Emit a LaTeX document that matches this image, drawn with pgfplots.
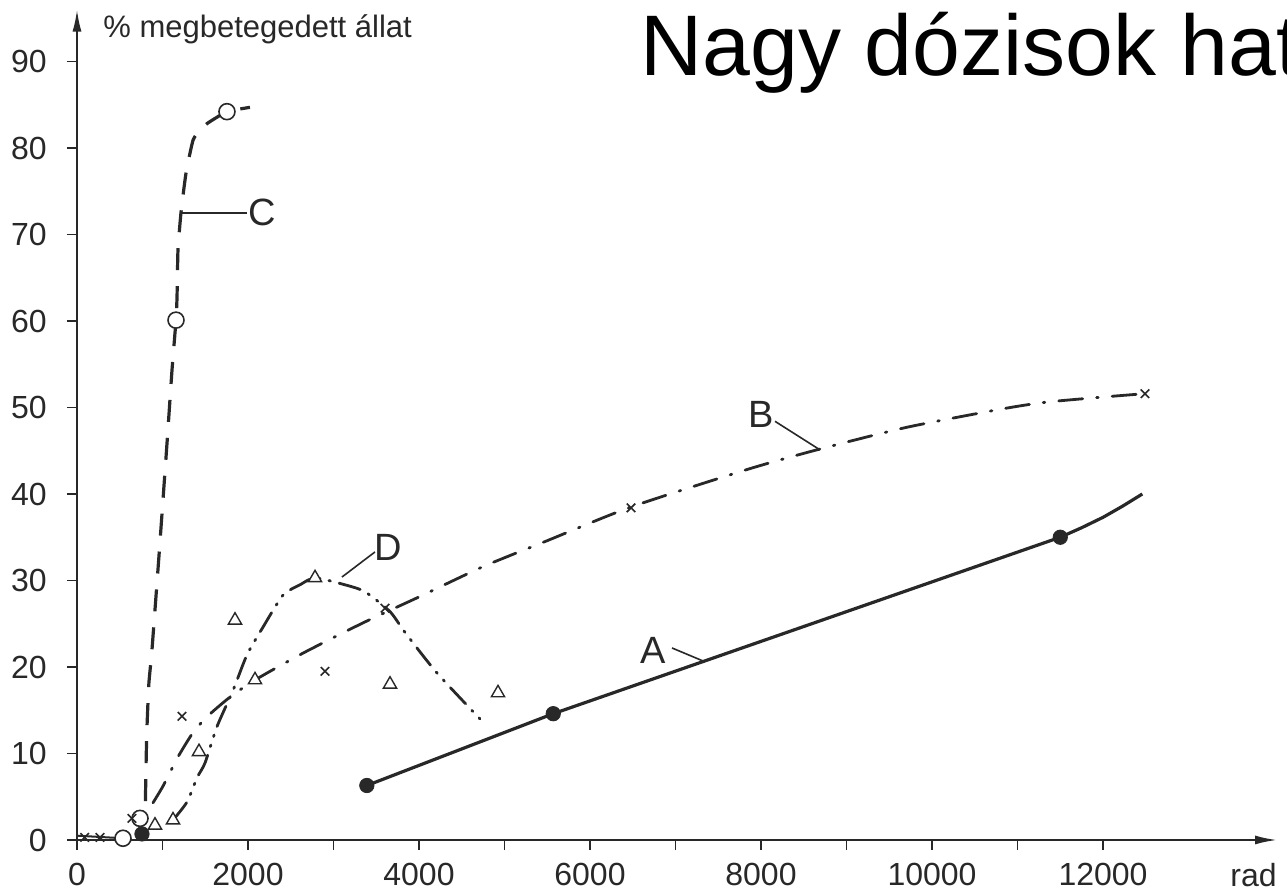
\documentclass[border=0pt]{standalone}
\usepackage{fontspec}
\setmainfont{Liberation Sans}
\usepackage{pgfplots}
\pgfplotsset{compat=1.18}
\usetikzlibrary{arrows.meta}
\definecolor{ink}{RGB}{40,40,40}
\begin{document}
\begin{tikzpicture}
\useasboundingbox (-38.5pt,-26.5pt) rectangle (605pt,420pt);
\begin{axis}[
  at={(0pt,0pt)}, anchor=origin,
  scale only axis, width=600pt, height=415.2pt,
  xmin=0, xmax=14035, ymin=0, ymax=96,
  axis lines=left,
  axis line style={ink, line width=1pt, -{Latex[length=11pt,width=4.5pt]}},
  xtick={0,2000,...,12000},
  minor xtick={1000,3000,...,11000},
  ytick={0,10,...,90},
  tick align=outside,
  major tick length=5pt, minor tick length=5pt,
  tick style={ink, line width=0.8pt},
  scaled ticks=false,
  /pgf/number format/1000 sep={},
  /pgf/number format/assume math mode=true,
  ticklabel style={font=\fontsize{16}{18}\selectfont, text=ink, inner sep=0pt},
  xticklabel style={anchor=base, yshift=-18pt},
  yticklabel style={anchor=east, xshift=-10pt},
  clip=false,
]
% near-origin segment
\addplot[ink, line width=1pt] coordinates {(0,0.5)(538,0.2)};
% A
\addplot[ink, line width=1.6pt] coordinates {(3390,6.3)(5570,14.6)(11500,35.0)(11750,36.1)(12000,37.3)(12230,38.6)(12460,40.0)};
\addplot[only marks, mark=*, mark size=3.6pt, ink] coordinates {(3390,6.3)(5570,14.6)(11500,35.0)(760,0.7)};
% B
\addplot[ink, line width=1.4pt, line cap=round, dash pattern=on 12pt off 7pt on 0.8pt off 7pt, smooth, tension=0.4] coordinates {
(889,4.3)(1010,6.3)(1181,9.6)(1370,12.6)(1560,14.6)(1800,16.6)(2082,18.5)(2643,21.6)(3345,25.1)(4000,28.1)(4749,31.6)(5474,34.5)(6480,38.5)(7860,42.9)(8690,45.2)(9700,47.7)(10800,49.8)(11322,50.6)(11988,51.2)(12491,51.6)};
% D
\addplot[ink, line width=1.4pt, line cap=round, dash pattern=on 11pt off 4.5pt on 0.8pt off 4.5pt on 0.8pt off 4.5pt, smooth, tension=0.4] coordinates {
(1123,2.3)(1287,4.4)(1404,7.2)(1497,8.9)(1637,13.1)(1825,17.3)(1988,21.4)(2175,24.6)(2409,28.3)(2608,29.5)(2784,30.3)(3135,29.5)(3368,28.7)(3661,26.4)(3836,24.0)(4211,19.3)(4713,14.0)};
% C
\addplot[ink, line width=1.6pt, dash pattern=on 11pt off 8pt, smooth, tension=0.3] coordinates {
(800,4.5)(815,12)(840,18)(877,22)(960,33)(1053,45.9)(1111,54.3)(1158,60.1)(1170,62.8)(1181,68.2)(1216,72.5)(1275,77.1)(1357,80.9)(1439,82.1)(1532,82.9)(1754,84.2)(2023,84.7)};
% markers
\addplot[only marks, mark=*, mark size=4pt, mark options={fill=white, draw=ink, line width=0.8pt}] coordinates {(538,0.2)(737,2.5)(1158,60.1)(1754,84.2)};
\addplot[only marks, mark=triangle*, mark size=3.8pt, mark options={fill=white, draw=ink, line width=0.7pt}] coordinates {(912,1.7)(1123,2.3)(1427,10.2)(1848,25.4)(2082,18.5)(2784,30.3)(3661,18.0)(4924,17.0)};
\addplot[only marks, mark=x, mark size=3pt, mark options={draw=ink, line width=0.8pt}] coordinates {(90,0.3)(269,0.3)(643,2.5)(1228,14.3)(2900,19.5)(3602,26.8)(6480,38.4)(12491,51.6)};
% curve labels
\draw[ink, line width=0.8pt] (axis cs:6959,22.2) -- (axis cs:7345,20.6);
\draw[ink, line width=0.8pt] (axis cs:8164,48.4) -- (axis cs:8690,45.1);
\draw[ink, line width=0.8pt] (axis cs:1216,72.5) -- (axis cs:1988,72.5);
\draw[ink, line width=0.8pt] (axis cs:3485,33.3) -- (axis cs:3099,30.4);
\node[font=\fontsize{19}{22}\selectfont, text=ink] at (axis cs:6737,21.97) {A};
\node[font=\fontsize{19}{22}\selectfont, text=ink] at (axis cs:8000,49.25) {B};
\node[font=\fontsize{19}{22}\selectfont, text=ink] at (axis cs:2164,72.5) {C};
\node[font=\fontsize{19}{22}\selectfont, text=ink] at (axis cs:3637,33.8) {D};
% texts
\node[anchor=base west, inner sep=0pt, font=\fontsize{15.5}{18}\selectfont, text=ink] at (axis cs:304,92.8) {\% megbetegedett állat};
\node[anchor=base east, inner sep=0pt, font=\fontsize{16}{18}\selectfont, text=ink] at (axis cs:14035,-5.43) {rad};
\node[anchor=base west, inner sep=0pt, font=\fontsize{43}{50}\selectfont] at (axis cs:6585,88.4) {Nagy dózisok hat};
\end{axis}
\end{tikzpicture}
\end{document}
